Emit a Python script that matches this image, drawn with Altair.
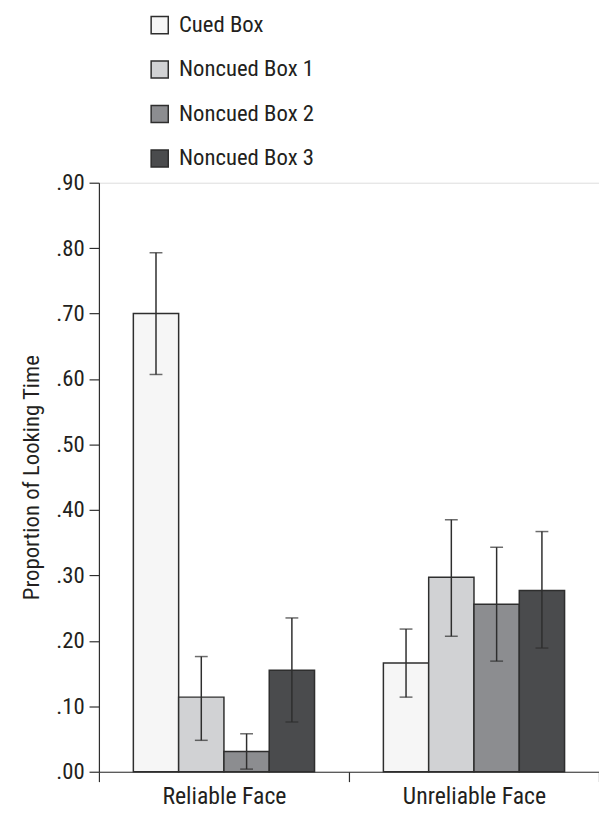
import altair as alt
import pandas as pd

groups = ["Reliable Face", "Unreliable Face"]
series = ["Cued Box", "Noncued Box 1", "Noncued Box 2", "Noncued Box 3"]
colors = ["#f6f6f6", "#d1d2d4", "#8c8d90", "#4a4b4d"]

reliable_mean = [0.700, 0.114, 0.031, 0.155]
reliable_lo = [0.607, 0.048, 0.004, 0.076]
reliable_hi = [0.793, 0.176, 0.058, 0.235]

unreliable_mean = [0.166, 0.297, 0.256, 0.277]
unreliable_lo = [0.114, 0.207, 0.169, 0.189]
unreliable_hi = [0.218, 0.385, 0.343, 0.367]

y_ticks = [0, 0.1, 0.2, 0.3, 0.4, 0.5, 0.6, 0.7, 0.8, 0.9]

rows = []
for g, m, lo, hi in [
    (groups[0], reliable_mean, reliable_lo, reliable_hi),
    (groups[1], unreliable_mean, unreliable_lo, unreliable_hi),
]:
    for s, mv, lv, hv in zip(series, m, lo, hi):
        rows.append({"group": g, "series": s, "mean": mv, "lo": lv, "hi": hv})
df = pd.DataFrame(rows)

FONT = "'Roboto Condensed', 'DejaVu Sans Condensed', Roboto, sans-serif"
TXT = "#231f20"
LINE = "#2e2e2e"

x_enc = alt.X(
    "group:N",
    sort=groups,
    scale=alt.Scale(paddingInner=0, paddingOuter=0),
    axis=alt.Axis(
        title=None,
        labelAngle=0,
        tickBand="extent",
        tickSize=10,
        labelPadding=3,
        labelFontSize=24,
        labelFont=FONT,
        labelColor=TXT,
        domainColor=LINE,
        tickColor=LINE,
        domainWidth=1.2,
        tickWidth=1.2,
    ),
)
xoff = alt.XOffset("series:N", sort=series, scale=alt.Scale(paddingInner=0, paddingOuter=0.76))
y_scale = alt.Scale(domain=[0, 0.9], nice=False)

bars = alt.Chart(df).mark_bar(stroke=LINE, strokeWidth=1.5).encode(
    x=x_enc,
    xOffset=xoff,
    y=alt.Y(
        "mean:Q",
        scale=y_scale,
        axis=alt.Axis(
            title="Proportion of Looking Time",
            values=y_ticks,
            labelExpr="substring(format(datum.value, '.2f'), 1)",
            grid=False,
            tickSize=10,
            labelPadding=5,
            labelFontSize=23,
            labelFont=FONT,
            labelColor=TXT,
            titleFont=FONT,
            titleFontSize=23,
            titleFontWeight="normal",
            titleColor=TXT,
            titlePadding=12,
            domainColor=LINE,
            tickColor=LINE,
            domainWidth=1.2,
            tickWidth=1.2,
        ),
    ),
    fill=alt.Fill(
        "series:N",
        sort=series,
        scale=alt.Scale(domain=series, range=colors),
        legend=alt.Legend(
            title=None,
            orient="none",
            legendX=50,
            legendY=-171,
            padding=0,
            symbolType="square",
            symbolSize=300,
            symbolStrokeColor=LINE,
            symbolStrokeWidth=1.5,
            labelFont=FONT,
            labelFontSize=23,
            labelColor=TXT,
            rowPadding=20,
            labelOffset=8,
            labelLimit=400,
        ),
    ),
)

rules = alt.Chart(df).mark_rule(color=LINE, strokeWidth=1.5).encode(
    x=alt.X("group:N", sort=groups),
    xOffset=xoff,
    y=alt.Y("lo:Q", scale=y_scale),
    y2="hi:Q",
)
cap_lo = alt.Chart(df).mark_tick(color=LINE, size=13, thickness=1.5).encode(
    x=alt.X("group:N", sort=groups),
    xOffset=xoff,
    y=alt.Y("lo:Q", scale=y_scale),
)
cap_hi = alt.Chart(df).mark_tick(color=LINE, size=13, thickness=1.5).encode(
    x=alt.X("group:N", sort=groups),
    xOffset=xoff,
    y=alt.Y("hi:Q", scale=y_scale),
)

chart = (
    alt.layer(bars, rules, cap_lo, cap_hi)
    .properties(
        width=506,
        height=596,
        autosize=alt.AutoSizeParams(type="none"),
        padding={"left": 92, "top": 172, "right": 0, "bottom": 40},
    )
    .configure_view(strokeWidth=0, stroke="transparent")
    .configure_axis(grid=False)
    .configure(background="white")
)

chart.save("out.html", embed_options={"renderer": "svg", "actions": False})
